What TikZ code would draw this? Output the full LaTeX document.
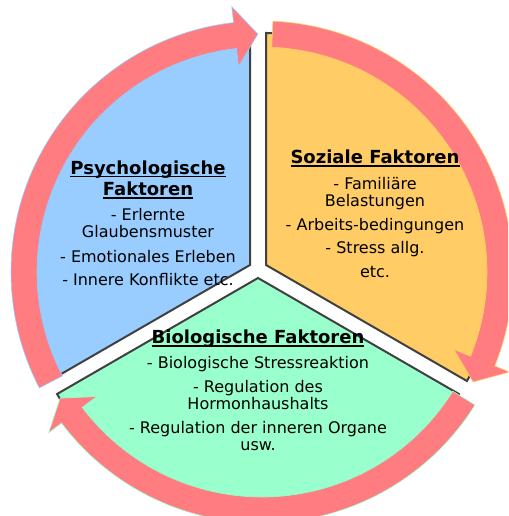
\documentclass[tikz,border=0pt]{standalone}
\usepackage{fontspec}
\setmainfont{DejaVu Sans}
\definecolor{blueF}{HTML}{99CCFF}
\definecolor{orangeF}{HTML}{FFCC66}
\definecolor{greenF}{HTML}{99FFCC}
\definecolor{pinkF}{HTML}{FF7C80}
\definecolor{edgeC}{HTML}{404040}
\newcommand\myul[1]{\setbox0\hbox{#1}\rlap{\rule[-2.6pt]{\wd0}{1.3pt}}\box0}
\newcommand\titlefont{\fontsize{18}{20}\selectfont\bfseries}
\newcommand\cycarrow[4]{\filldraw[#4] (#1:251) arc[start angle=#1, end angle=#2, radius=251] -- (#2:267) -- (#3:238) -- (#2:207) -- (#2:225) arc[start angle=#2, end angle=#1, radius=225] -- cycle;}
\tikzset{
  sector/.style={draw=edgeC, line width=2pt, line join=miter},
  cyc/.style={fill=pinkF, line width=0.6pt},
  label/.style={align=center, anchor=base, inner sep=0pt, font=\fontsize{16}{17}\selectfont}
}
\begin{document}
\begin{tikzpicture}[x=1pt,y=1pt]
\useasboundingbox (0,0) rectangle (508,516);
\clip (0,0) rectangle (508,516);
\fill[white] (0,0) rectangle (508,516);
% sectors
\coordinate (Ob) at (250,251);
\coordinate (Oo) at (266,251);
\coordinate (Og) at (258,238);
\filldraw[sector, fill=blueF] (Ob) -- ++(90:232) arc[start angle=90, end angle=210, radius=232] -- cycle;
\filldraw[sector, fill=orangeF] (Oo) -- ++(90:232) arc[start angle=90, end angle=-30, radius=232] -- cycle;
\filldraw[sector, fill=greenF] (Og) -- ++(210:232) arc[start angle=210, end angle=330, radius=232] -- cycle;
% circular arrows
\begin{scope}[shift={(262,244)}]
\cycarrow{207.5}{96.5}{91}{cyc, draw=blueF}
\cycarrow{87.5}{-22}{-27.5}{cyc, draw=orangeF}
\cycarrow{-32}{-143}{-148}{cyc, draw=greenF}
\end{scope}
% texts
\node[label] (psy) at (148,230) {{\titlefont\myul{Psychologische}}\\[3pt]{\titlefont\myul{Faktoren}}\\[8pt]
- Erlernte\\ Glaubensmuster\\[8pt] - Emotionales Erleben\\[6pt] - Innere Konflikte etc.};
\node[label] (soz) at (375,238) {{\titlefont\myul{Soziale Faktoren}}\\[9pt]
- Familiäre\\ Belastungen\\[7pt] - Arbeits-bedingungen\\[6pt] - Stress allg.\\[7pt] etc.};
\node[label] (bio) at (258,65) {{\titlefont\myul{Biologische Faktoren}}\\[8pt]
- Biologische Stressreaktion\\[7pt] - Regulation des\\ Hormonhaushalts\\[7pt] - Regulation der inneren Organe\\ usw.};
\end{tikzpicture}
\end{document}
